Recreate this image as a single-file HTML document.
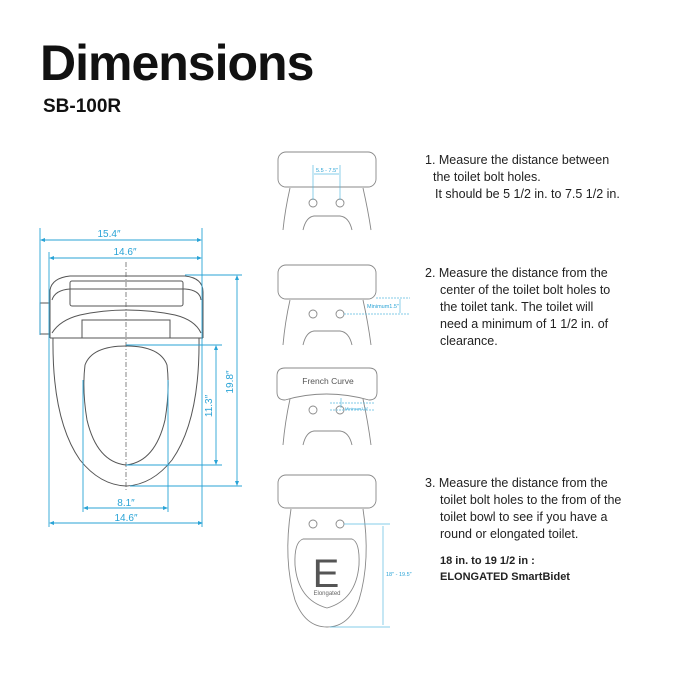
<!DOCTYPE html>
<html><head><style>body{margin:0;background:#fff}svg{display:block}</style></head><body>
<svg width="675" height="675" viewBox="0 0 675 675" xmlns="http://www.w3.org/2000/svg" font-family="Liberation Sans, sans-serif">
<text x="40" y="80" font-size="50" font-weight="bold" fill="#111" letter-spacing="-1">Dimensions</text>
<text x="43" y="112" font-size="19" font-weight="bold" fill="#111">SB-100R</text>
<g font-size="12.5" fill="#222">
<text x="425" y="164">1. Measure the distance between</text>
<text x="433" y="181">the toilet bolt holes.</text>
<text x="435" y="198">It should be 5 1/2 in. to 7.5 1/2 in.</text>
<text x="425" y="277">2. Measure the distance from the</text>
<text x="440" y="294">center of the toilet bolt holes to</text>
<text x="440" y="311">the toilet tank. The toilet will</text>
<text x="440" y="328">need a minimum of 1 1/2 in. of</text>
<text x="440" y="345">clearance.</text>
<text x="425" y="487">3. Measure the distance from the</text>
<text x="440" y="504">toilet bolt holes to the from of the</text>
<text x="440" y="521">toilet bowl to see if you have a</text>
<text x="440" y="538">round or elongated toilet.</text>
<text x="440" y="564" font-weight="bold" font-size="11">18 in. to 19 1/2 in :</text>
<text x="440" y="580" font-weight="bold" font-size="11">ELONGATED SmartBidet</text>
</g>
<!-- left seat -->
<g fill="none" stroke="#555" stroke-width="1">
<path d="M50 338 L50 290 Q52 278 70 276 L185 276 Q203 278 203 292 L203 338"/>
<path d="M52 300 Q55 290 70 289 L185 289 Q200 290 201 300"/>
<rect x="70" y="281" width="113" height="25" rx="2"/>
<path d="M52 333 Q60 320 80 315 Q126 305 175 315 Q195 320 201 333"/>
<rect x="82" y="320" width="88" height="18"/>
<rect x="40" y="303" width="10" height="31"/>
<path d="M50 338 L203 338"/>
<path d="M53 338 Q52 420 80 460 Q100 485 126 486 Q152 485 172 460 Q200 420 199 338"/>
<path d="M126 346 Q160 346 167 365 Q170 390 165 420 Q155 462 126 465 Q97 462 87 420 Q82 390 85 365 Q92 346 126 346Z"/>
</g>
<line x1="126" y1="262" x2="126" y2="490" stroke="#666" stroke-width="0.8" stroke-dasharray="5,2,1,2"/>
<g stroke="#29a3d6" stroke-width="0.9" fill="#29a3d6">
<line x1="40" y1="228" x2="40" y2="335"/><line x1="202" y1="228" x2="202" y2="527"/>
<line x1="49" y1="252" x2="49" y2="527"/>
<line x1="42" y1="240" x2="200" y2="240"/><line x1="51" y1="258" x2="200" y2="258"/>
<line x1="185" y1="275" x2="242" y2="275"/><line x1="130" y1="486" x2="242" y2="486"/>
<line x1="126" y1="345" x2="222" y2="345"/><line x1="126" y1="465" x2="222" y2="465"/>
<line x1="237" y1="277" x2="237" y2="484"/><line x1="216" y1="347" x2="216" y2="463"/>
<line x1="83" y1="380" x2="83" y2="512"/><line x1="168" y1="380" x2="168" y2="512"/>
<line x1="85" y1="508" x2="166" y2="508"/><line x1="51" y1="523" x2="201" y2="523"/>
<path d="M40 240l5-2v4zM202 240l-5-2v4zM49 258l5-2v4zM202 258l-5-2v4zM83 508l5-2v4zM168 508l-5-2v4zM49 523l5-2v4zM203 523l-5-2v4zM237 275l-2 5h4zM237 486l-2-5h4zM216 345l-2 5h4zM216 465l-2-5h4z" stroke="none"/>
</g>
<g fill="#29a3d6" font-size="10" text-anchor="middle">
<text x="109" y="237">15.4″</text><text x="125" y="255">14.6″</text>
<text x="126" y="506">8.1″</text><text x="126" y="521">14.6″</text>
<text transform="translate(233,382) rotate(-90)">19.8″</text>
<text transform="translate(212,406) rotate(-90)">11.3″</text>
</g>
<!-- right toilets -->
<g fill="none" stroke="#888" stroke-width="0.9">
<rect x="278" y="152" width="98" height="35" rx="8"/>
<circle cx="313" cy="203" r="4"/><circle cx="340" cy="203" r="4"/>
<path d="M290 188 Q285 210 283 230M363 188 Q368 210 371 230M303 230 Q306 217 314 216 L340 216 Q349 217 352 230"/>
<rect x="278" y="265" width="98" height="34" rx="8"/>
<circle cx="313" cy="314" r="4"/><circle cx="340" cy="314" r="4"/>
<path d="M290 300 Q285 322 283 345M363 300 Q368 322 371 345M303 345 Q306 332 314 331 L340 331 Q349 332 352 345"/>
<path d="M285 368 L369 368 Q377 368 377 376 L377 392 Q377 400 369 400 Q326 388 285 400 Q277 400 277 392 L277 376 Q277 368 285 368Z"/>
<circle cx="313" cy="410" r="4"/><circle cx="340" cy="410" r="4"/>
<path d="M290 399 Q285 422 283 445M363 399 Q368 422 371 445M303 445 Q306 432 314 431 L340 431 Q349 432 352 445"/>
<rect x="278" y="475" width="98" height="33" rx="8"/>
<circle cx="313" cy="524" r="4"/><circle cx="340" cy="524" r="4"/>
<path d="M291 509 Q283 560 295 600 Q305 627 327 627 Q349 627 359 600 Q371 560 363 509"/>
<path d="M303 539 L352 539 Q360 542 359 565 Q356 600 327 608 Q298 600 295 565 Q294 542 303 539Z"/>
</g>
<text x="328" y="384" font-size="8.5" fill="#555" text-anchor="middle">French Curve</text>
<text x="326" y="587" font-size="40" fill="#555" text-anchor="middle">E</text>
<text x="327" y="595" font-size="6" fill="#666" text-anchor="middle">Elongated</text>
<g stroke="#5bbbe0" stroke-width="0.7" fill="none">
<line x1="313" y1="165" x2="313" y2="200"/><line x1="340" y1="165" x2="340" y2="200"/>
<line x1="314" y1="174" x2="339" y2="174"/>
<line x1="376" y1="298" x2="410" y2="298" stroke-dasharray="2,1"/><line x1="344" y1="314" x2="410" y2="314" stroke-dasharray="2,1"/>
<line x1="400" y1="299" x2="400" y2="313"/>
<line x1="330" y1="403" x2="375" y2="403" stroke-dasharray="2,1"/><line x1="330" y1="410" x2="375" y2="410" stroke-dasharray="2,1"/>
<line x1="341" y1="398" x2="341" y2="408"/>
<line x1="344" y1="524" x2="390" y2="524"/><line x1="330" y1="627" x2="390" y2="627"/>
<line x1="383" y1="526" x2="383" y2="625"/>
</g>
<g fill="#29a3d6" font-size="5.5">
<text x="316" y="172">5.5 - 7.5″</text>
<text x="367" y="308">Minimum1.5″</text>
<text x="345" y="410" font-size="4">Minimum1.5″</text>
<text x="386" y="576">18″ - 19.5″</text>
</g>
</svg>
</body></html>
